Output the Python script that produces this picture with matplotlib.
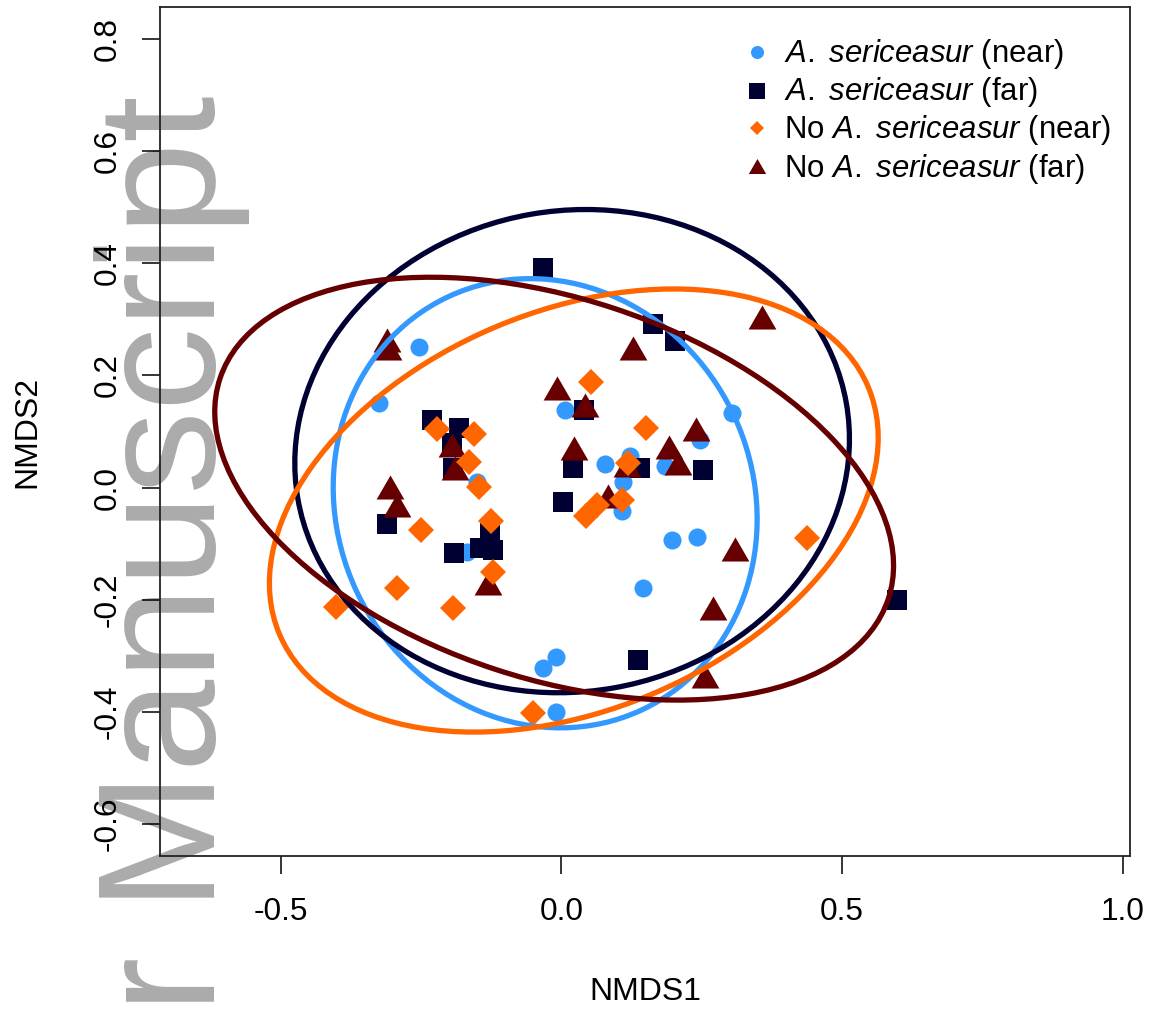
import numpy as np
import matplotlib
matplotlib.use("Agg")
import matplotlib.pyplot as plt
from matplotlib.patches import Ellipse
from matplotlib.path import Path
from matplotlib.lines import Line2D

plt.rcParams['font.family'] = ['Liberation Sans', 'DejaVu Sans']
plt.rcParams['mathtext.fontset'] = 'custom'
plt.rcParams['mathtext.rm'] = 'Liberation Sans'
plt.rcParams['mathtext.it'] = 'Liberation Sans:italic'

# ---------------- data ----------------
group_labels = [r"$\it{A.\ sericeasur}$ (near)",
                r"$\it{A.\ sericeasur}$ (far)",
                r"No $\it{A.\ sericeasur}$ (near)",
                r"No $\it{A.\ sericeasur}$ (far)"]
group_colors = ["#3399FF", "#000033", "#FF6600", "#660000"]

as_near_x = [-0.325, -0.254, -0.150, 0.007, 0.078, 0.122, 0.110, 0.108, 0.197,
             0.242, 0.146, 0.304, 0.247, 0.185, -0.168, -0.033, -0.009, -0.009]
as_near_y = [0.151, 0.251, 0.010, 0.138, 0.042, 0.056, 0.010, -0.042, -0.094,
             -0.088, -0.179, 0.133, 0.085, 0.038, -0.115, -0.322, -0.302, -0.401]

as_far_x = [-0.033, 0.163, 0.203, 0.040, 0.021, 0.003, 0.140, 0.252, 0.598, 0.137,
            -0.230, -0.182, -0.195, -0.193, -0.311, -0.191, -0.145, -0.122, -0.127]
as_far_y = [0.392, 0.292, 0.261, 0.138, 0.035, -0.026, 0.035, 0.031, -0.201, -0.308,
            0.120, 0.106, 0.079, 0.035, -0.065, -0.117, -0.108, -0.112, -0.079]

no_near_x = [-0.222, -0.156, -0.164, -0.147, -0.125, -0.250, -0.122, -0.293, -0.193,
             -0.401, 0.053, 0.151, 0.119, 0.108, 0.044, 0.064, 0.438, -0.050]
no_near_y = [0.104, 0.095, 0.045, 0.001, -0.060, -0.076, -0.151, -0.179, -0.215,
             -0.213, 0.188, 0.106, 0.044, -0.022, -0.051, -0.031, -0.090, -0.402]

no_far_x = [-0.311, -0.309, 0.128, -0.008, 0.042, 0.240, 0.192, 0.208, 0.023, -0.305,
            -0.293, -0.195, -0.189, -0.131, 0.309, 0.270, 0.358, 0.256, 0.117, 0.083]
no_far_y = [0.263, 0.249, 0.249, 0.178, 0.147, 0.104, 0.072, 0.043, 0.071, 0.001,
            -0.031, 0.076, 0.035, -0.170, -0.109, -0.215, 0.304, -0.336, 0.040, -0.015]

# ellipses: centre x, centre y, full width, full height, angle (deg)
ell_cx = [-0.029, 0.019, 0.022, -0.013]
ell_cy = [-0.028, 0.065, -0.041, -0.002]
ell_w = [0.814, 0.992, 1.138, 1.254]
ell_h = [0.742, 0.858, 0.712, 0.678]
ell_ang = [-65.0, 10.0, 22.8, -18.3]

x_ticks = [-0.5, 0.0, 0.5, 1.0]
y_ticks = [-0.6, -0.4, -0.2, 0.0, 0.2, 0.4, 0.6, 0.8]

# ---------------- figure ----------------
W, H = 1150, 1013
fig = plt.figure(figsize=(W / 100, H / 100), dpi=100)
ax = fig.add_axes([159.6 / W, (H - 856) / H, (1130 - 159.6) / W, (856 - 7.3) / H])
ax.patch.set_visible(False)

tri = Path([(-1, -0.866), (1, -0.866), (0, 0.866), (-1, -0.866)],
           [Path.MOVETO, Path.LINETO, Path.LINETO, Path.CLOSEPOLY])

series = [
    (as_near_x, as_near_y, 'o', 13.0),
    (as_far_x, as_far_y, 's', 13.7),
    (no_far_x, no_far_y, tri, 20.0),
    (no_near_x, no_near_y, 'D', 13.2),
]
color_of = [group_colors[0], group_colors[1], group_colors[3], group_colors[2]]
for (xs, ys, mk, ms), c in zip(series, color_of):
    ax.plot(xs, ys, linestyle='none', marker=mk, markersize=ms,
            markerfacecolor=c, markeredgewidth=0, zorder=3)

for cx, cy, w, h, a, c in zip(ell_cx, ell_cy, ell_w, ell_h, ell_ang, group_colors):
    ax.add_patch(Ellipse((cx, cy), w, h, angle=a, fill=False, edgecolor=c,
                         linewidth=3.8, zorder=4))

ax.set_xlim(-0.716, 1.013)
ax.set_ylim(-0.6575, 0.857)
ax.set_xticks(x_ticks)
ax.set_xticklabels([f"{v:.1f}" for v in x_ticks])
ax.set_yticks(y_ticks)
ax.set_yticklabels([f"{v:.1f}" for v in y_ticks])
for lab in ax.get_yticklabels():
    lab.set_rotation(90)
    lab.set_va('center')
    lab.set_ha('right')
ax.tick_params(axis='both', direction='out', length=13, width=1.1,
               labelsize=22.8, colors='black')
ax.tick_params(axis='x', pad=16.5)
ax.tick_params(axis='y', pad=13.5)
for sp in ax.spines.values():
    sp.set_linewidth(1.3)
    sp.set_color('#222222')

fig.text(645 / W, (H - 992) / H, "NMDS1", fontsize=23, ha='center', va='center')
fig.text(27 / W, (H - 431.5) / H, "NMDS2", fontsize=23, ha='center', va='center',
         rotation=90)

# legend (no box)
leg_marker_y = [51.7, 90.5, 128.0, 166.0]
leg_base_y = [61.7, 100.0, 138.3, 176.7]
leg_markers = ['o', 's', 'D', tri]
leg_ms = [9.4, 11.0, 6.8, 12.5]
for i in range(4):
    fig.add_artist(Line2D([757 / W], [(H - leg_marker_y[i]) / H],
                          transform=fig.transFigure, linestyle='none',
                          marker=leg_markers[i], markersize=leg_ms[i],
                          markerfacecolor=group_colors[i], markeredgewidth=0))
    fig.text(784 / W, (H - leg_base_y[i]) / H, group_labels[i], fontsize=22.4,
             ha='left', va='baseline')

# watermark
fig.text(215 / W, (H - 95) / H, "r Manuscript", fontsize=120, color='#ABABAB',
         rotation=90, rotation_mode='anchor', ha='right', va='baseline', zorder=-10)

fig.savefig("out.png", dpi=100)
